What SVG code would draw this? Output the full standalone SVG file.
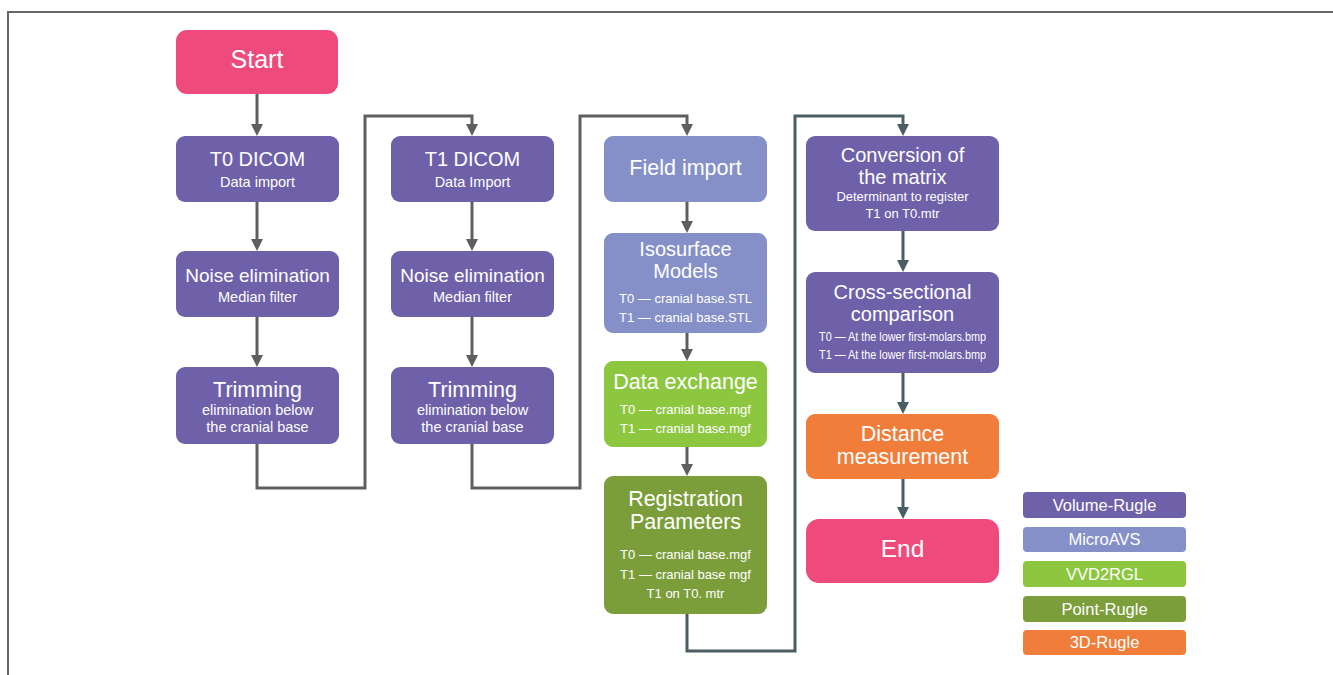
<svg xmlns="http://www.w3.org/2000/svg" width="1333" height="675" viewBox="0 0 1333 675">
<style>
text{font-family:"Liberation Sans",Arial,sans-serif;fill:#ffffff;text-anchor:middle}
.pink{fill:#ee4a7c}
.vr{fill:#6e61a9}
.ma{fill:#8690c8}
.vv{fill:#8dc63f}
.pr{fill:#7b9e3b}
.d3{fill:#f07e3a}
.cg{fill:none;stroke:#5f5f5f;stroke-width:3;marker-end:url(#ag)}
.cs{fill:none;stroke:#4a5d63;stroke-width:3;marker-end:url(#as)}
.t{font-size:21.5px}
.t2{font-size:20px}
.s{font-size:14.5px}
.x{font-size:13px}
.l{font-size:16.5px}
</style>
<defs>
<marker id="ag" viewBox="0 0 12 12" markerWidth="12" markerHeight="12" markerUnits="userSpaceOnUse" refX="2" refY="6" orient="auto"><path d="M0,0 L12,6 L0,12 z" fill="#5f5f5f"/></marker>
<marker id="as" viewBox="0 0 12 12" markerWidth="12" markerHeight="12" markerUnits="userSpaceOnUse" refX="2" refY="6" orient="auto"><path d="M0,0 L12,6 L0,12 z" fill="#4a5d63"/></marker>
</defs>
<rect x="0" y="0" width="1333" height="675" fill="#ffffff"/>
<rect x="8" y="12" width="1400" height="700" fill="none" stroke="#666666" stroke-width="2"/>

<g id="connectors">
<path class="cg" d="M257,94 V126"/>
<path class="cg" d="M257,202 V241"/>
<path class="cg" d="M257,317 V357"/>
<path class="cg" d="M257,444 V488 H365 V116 H472 V126"/>
<path class="cg" d="M472,202 V241"/>
<path class="cg" d="M472,317 V357"/>
<path class="cg" d="M472,444 V488 H580 V116 H687 V126"/>
<path class="cg" d="M687,202 V223"/>
<path class="cg" d="M687,333 V351"/>
<path class="cg" d="M687,447 V466"/>
<path class="cs" d="M687,614 V651 H795 V116 H903 V126"/>
<path class="cs" d="M903,231 V262"/>
<path class="cs" d="M903,373 V404"/>
<path class="cs" d="M903,479 V509"/>
</g>

<g id="start">
<rect class="pink" x="176" y="30" width="162" height="64" rx="11"/>
<text x="257" y="68" style="font-size:25px">Start</text>
</g>
<g id="t0dicom">
<rect class="vr" x="176" y="136" width="163" height="66" rx="9"/>
<text x="257.5" y="166" style="font-size:20px">T0 DICOM</text>
<text class="s" x="257.5" y="187">Data import</text>
</g>
<g id="noise0">
<rect class="vr" x="176" y="251" width="163" height="66" rx="9"/>
<text x="257.5" y="282" style="font-size:19px">Noise elimination</text>
<text class="s" x="257.5" y="302">Median filter</text>
</g>
<g id="trim0">
<rect class="vr" x="176" y="367" width="163" height="77" rx="9"/>
<text class="t" x="257.5" y="397">Trimming</text>
<text class="s" x="257.5" y="415">elimination below</text>
<text class="s" x="257.5" y="432">the cranial base</text>
</g>
<g id="t1dicom">
<rect class="vr" x="391" y="136" width="163" height="66" rx="9"/>
<text x="472.5" y="166" style="font-size:20px">T1 DICOM</text>
<text class="s" x="472.5" y="187">Data Import</text>
</g>
<g id="noise1">
<rect class="vr" x="391" y="251" width="163" height="66" rx="9"/>
<text x="472.5" y="282" style="font-size:19px">Noise elimination</text>
<text class="s" x="472.5" y="302">Median filter</text>
</g>
<g id="trim1">
<rect class="vr" x="391" y="367" width="163" height="77" rx="9"/>
<text class="t" x="472.5" y="397">Trimming</text>
<text class="s" x="472.5" y="415">elimination below</text>
<text class="s" x="472.5" y="432">the cranial base</text>
</g>
<g id="field">
<rect class="ma" x="604" y="136" width="163" height="66" rx="9"/>
<text class="t" x="685.5" y="175">Field import</text>
</g>
<g id="iso">
<rect class="ma" x="604" y="233" width="163" height="100" rx="9"/>
<text class="t2" x="685.5" y="256">Isosurface</text>
<text class="t2" x="685.5" y="278">Models</text>
<text class="x" x="685.5" y="303">T0 — cranial base.STL</text>
<text class="x" x="685.5" y="322">T1 — cranial base.STL</text>
</g>
<g id="exchange">
<rect class="vv" x="604" y="361" width="163" height="86" rx="9"/>
<text class="t" x="685.5" y="389">Data exchange</text>
<text class="x" x="685.5" y="414">T0 — cranial base.mgf</text>
<text class="x" x="685.5" y="433">T1 — cranial base.mgf</text>
</g>
<g id="registration">
<rect class="pr" x="604" y="476" width="163" height="138" rx="9"/>
<text class="t" x="685.5" y="506">Registration</text>
<text class="t" x="685.5" y="529">Parameters</text>
<text class="x" x="685.5" y="559">T0 — cranial base.mgf</text>
<text class="x" x="685.5" y="579">T1 — cranial base mgf</text>
<text class="x" x="685.5" y="598">T1 on T0. mtr</text>
</g>
<g id="conversion">
<rect class="vr" x="806" y="136" width="193" height="95" rx="9"/>
<text class="t2" x="902.5" y="162">Conversion of</text>
<text class="t2" x="902.5" y="184">the matrix</text>
<text class="x" x="902.5" y="201">Determinant to register</text>
<text class="x" x="902.5" y="218">T1 on T0.mtr</text>
</g>
<g id="cross">
<rect class="vr" x="806" y="272" width="193" height="101" rx="9"/>
<text class="t2" x="902.5" y="299">Cross-sectional</text>
<text class="t2" x="902.5" y="321">comparison</text>
<text class="x" x="902.5" y="341" textLength="167" lengthAdjust="spacingAndGlyphs">T0 — At the lower first-molars.bmp</text>
<text class="x" x="902.5" y="359" textLength="167" lengthAdjust="spacingAndGlyphs">T1 — At the lower first-molars.bmp</text>
</g>
<g id="distance">
<rect class="d3" x="806" y="414" width="193" height="65" rx="9"/>
<text class="t" x="902.5" y="441">Distance</text>
<text class="t" x="902.5" y="464">measurement</text>
</g>
<g id="end">
<rect class="pink" x="806" y="519" width="193" height="64" rx="13"/>
<text x="902.5" y="557" style="font-size:24.5px">End</text>
</g>

<g id="legend-volume-rugle">
<rect class="vr" x="1023" y="492" width="163" height="26" rx="4"/>
<text class="l" x="1104.5" y="511">Volume-Rugle</text>
</g>
<g id="legend-microavs">
<rect class="ma" x="1023" y="527" width="163" height="25" rx="4"/>
<text class="l" x="1104.5" y="545">MicroAVS</text>
</g>
<g id="legend-vvd2rgl">
<rect class="vv" x="1023" y="561" width="163" height="26" rx="4"/>
<text class="l" x="1104.5" y="580">VVD2RGL</text>
</g>
<g id="legend-point-rugle">
<rect class="pr" x="1023" y="596" width="163" height="26" rx="4"/>
<text class="l" x="1104.5" y="615">Point-Rugle</text>
</g>
<g id="legend-3d-rugle">
<rect class="d3" x="1023" y="630" width="163" height="25" rx="4"/>
<text class="l" x="1104.5" y="648">3D-Rugle</text>
</g>
</svg>
